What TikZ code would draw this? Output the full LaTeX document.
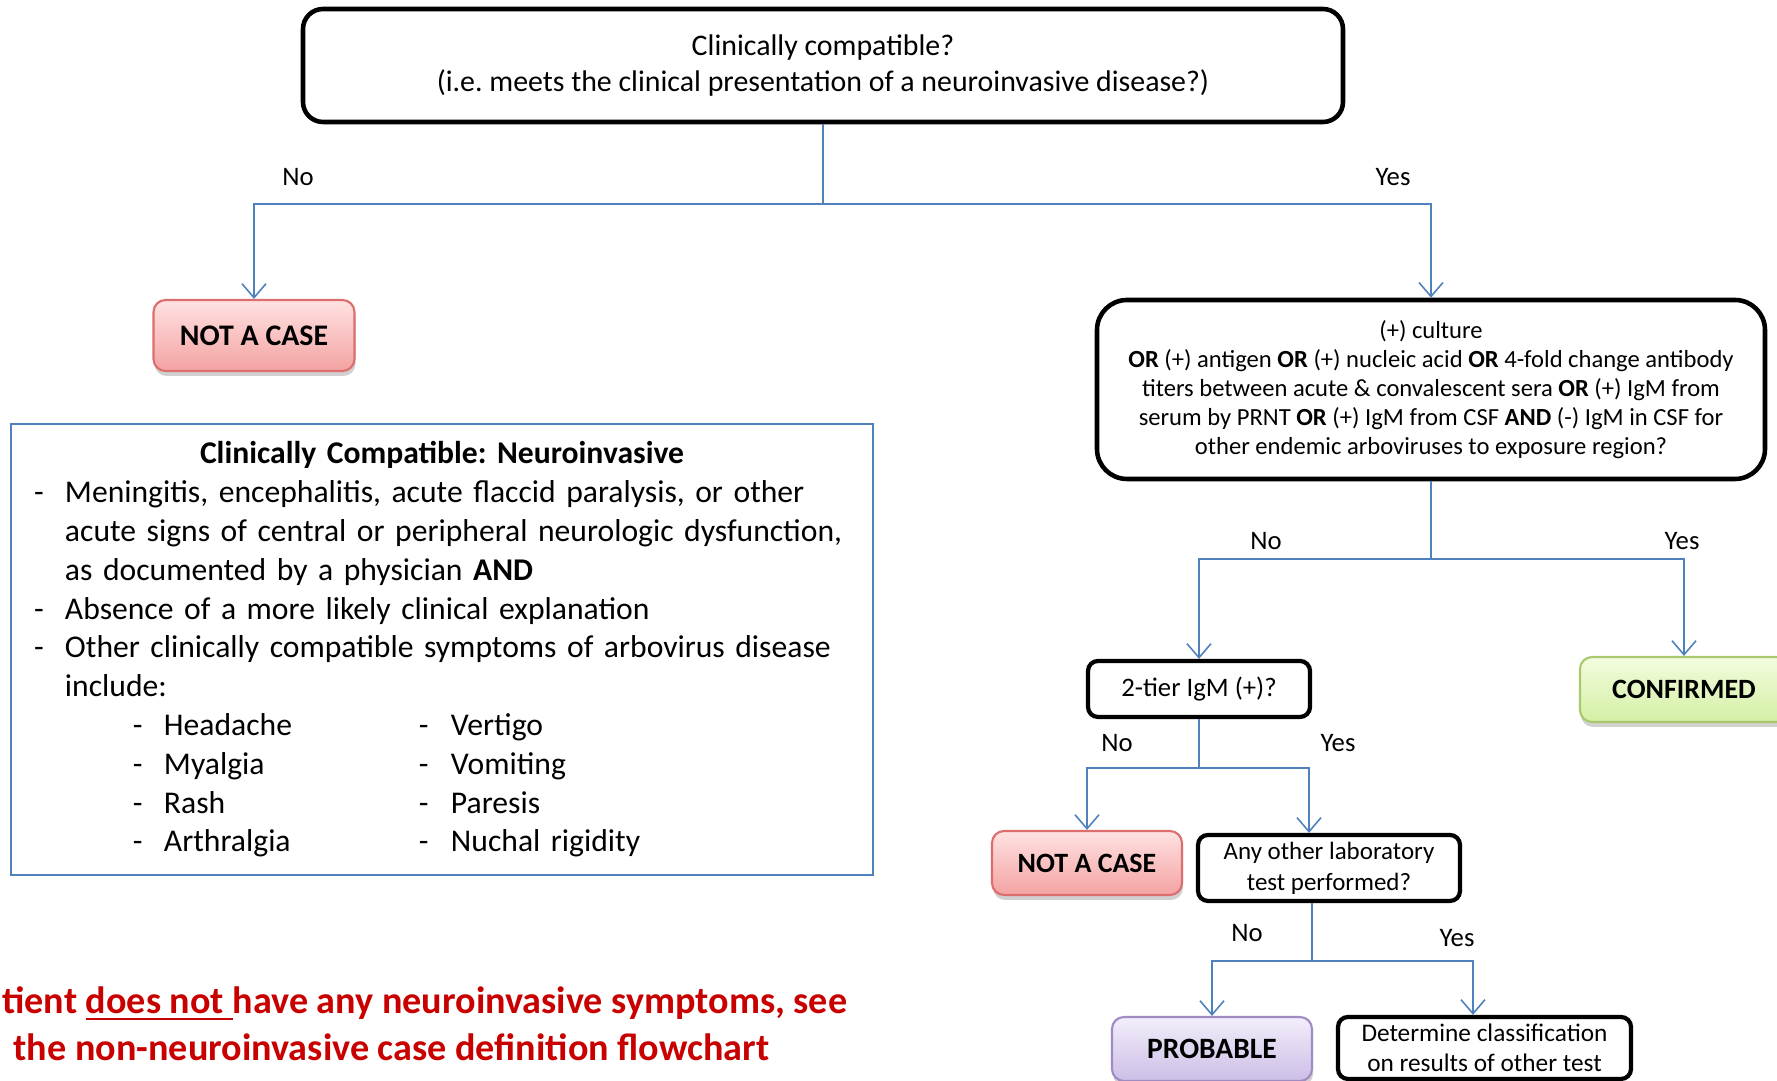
\documentclass[tikz,border=0pt]{standalone}
\usepackage{fontspec}
\setmainfont{Carlito}
\usetikzlibrary{arrows.meta,shadows}

\definecolor{linkblue}{RGB}{79,129,189}
\definecolor{caseedge}{RGB}{220,110,110}
\definecolor{casetop}{RGB}{255,226,226}
\definecolor{casebot}{RGB}{244,162,162}
\definecolor{confedge}{RGB}{170,200,110}
\definecolor{conftop}{RGB}{243,252,222}
\definecolor{confbot}{RGB}{212,240,165}
\definecolor{probedge}{RGB}{160,140,195}
\definecolor{probtop}{RGB}{243,238,251}
\definecolor{probbot}{RGB}{204,190,230}
\definecolor{notered}{RGB}{200,0,0}

\newcommand{\critdash}{\makebox[0.31cm][l]{-}}
\newcommand{\critpair}[2]{\hspace*{0.99cm}\critdash\makebox[2.55cm][l]{#1}\makebox[0.32cm][l]{-}#2}

\tikzset{
  link/.style={draw=linkblue, line width=0.45pt},
  arr/.style={link, -{Straight Barb[length=1.4mm,width=2.4mm]}},
  question/.style={draw, line width=1.3pt, align=center, inner sep=0pt},
  result/.style={rounded corners=0.12cm, line width=0.6pt, inner sep=0pt,
    drop shadow={shadow xshift=0.01cm, shadow yshift=-0.05cm, fill=black!40, opacity=0.45}},
  notcase/.style={result, draw=caseedge, top color=casetop, bottom color=casebot},
  lbl/.style={font=\fontsize{7.6}{8}\selectfont, inner sep=0pt},
  redtext/.style={text=notered, font=\fontsize{10.85}{12}\selectfont\bfseries, inner sep=0pt}
}

\begin{document}
\frenchspacing
\begin{tikzpicture}
    \useasboundingbox (0,0) rectangle (17.77,-10.81);

    % Questions
    \node[question, rounded corners=0.2cm, minimum width=10.4cm, minimum height=1.13cm,
      font=\fontsize{8.5}{10.24}\selectfont] (q1) at (8.23,-0.655)
      {Clinically compatible?\\(i.e. meets the clinical presentation of a neuroinvasive disease?)};
    \node[question, rounded corners=0.3cm, minimum width=6.68cm, minimum height=1.79cm,
      font=\fontsize{7.0}{8.25}\selectfont] (q2) at (14.31,-3.895)
      {(+) culture\\
       \textbf{OR} (+) antigen \textbf{OR} (+) nucleic acid \textbf{OR} 4-fold change antibody\\
       titers between acute \& convalescent sera \textbf{OR} (+) IgM from\\
       serum by PRNT \textbf{OR} (+) IgM from CSF \textbf{AND} (-) IgM in CSF for\\
       other endemic arboviruses to exposure region?};
    \node[question, rounded corners=0.1cm, line width=1.2pt, minimum width=2.22cm, minimum height=0.56cm,
      font=\fontsize{7.6}{8}\selectfont] (tier) at (11.99,-6.89) {2-tier IgM (+)?};
    \node[question, rounded corners=0.1cm, line width=1.2pt, minimum width=2.62cm, minimum height=0.66cm,
      font=\fontsize{7.1}{8.8}\selectfont] (other) at (13.29,-8.68) {Any other laboratory\\test performed?};
    \node[question, rounded corners=0.1cm, line width=1.2pt, minimum width=2.93cm, minimum height=0.62cm,
      font=\fontsize{7.2}{8.5}\selectfont] (det) at (14.845,-10.48) {Determine classification\\on results of other test};

    % Results
    \node[notcase, minimum width=2.01cm, minimum height=0.71cm,
      font=\fontsize{8.5}{9}\selectfont\bfseries] (nac1) at (2.54,-3.355) {NOT A CASE};
    \node[notcase, minimum width=1.90cm, minimum height=0.64cm,
      font=\fontsize{7.95}{9}\selectfont\bfseries] (nac2) at (10.87,-8.63) {NOT A CASE};
    \node[result, draw=confedge, top color=conftop, bottom color=confbot,
      minimum width=2.08cm, minimum height=0.65cm,
      font=\fontsize{7.95}{9}\selectfont\bfseries] (conf) at (16.84,-6.895) {CONFIRMED};
    \node[result, draw=probedge, top color=probtop, bottom color=probbot,
      minimum width=2.00cm, minimum height=0.64cm,
      font=\fontsize{8.4}{9}\selectfont\bfseries] (prob) at (12.12,-10.49) {PROBABLE};

    % Criteria
    \node[draw=linkblue, line width=0.5pt, minimum width=8.62cm, minimum height=4.51cm,
      text width=8.16cm, inner xsep=0.23cm, align=left,
      font=\fontsize{9.0}{11.04}\selectfont] (crit) at (4.42,-6.495)
      {\makebox[8.16cm]{\textbf{Clinically Compatible: Neuroinvasive}}\\
       \critdash Meningitis, encephalitis, acute flaccid paralysis, or other\\
       \hspace*{0.31cm}acute signs of central or peripheral neurologic dysfunction,\\
       \hspace*{0.31cm}as documented by a physician \textbf{AND}\\
       \critdash Absence of a more likely clinical explanation\\
       \critdash Other clinically compatible symptoms of arbovirus disease\\
       \hspace*{0.31cm}include:\\
       \critpair{Headache}{Vertigo}\\
       \critpair{Myalgia}{Vomiting}\\
       \critpair{Rash}{Paresis}\\
       \critpair{Arthralgia}{Nuchal rigidity}};

    \node[redtext, anchor=east] (notea) at (8.48,-10.04)
      {tient \underline{does not\ }have any neuroinvasive symptoms, see};
    \node[redtext] (noteb) at (3.915,-10.47) {the non-neuroinvasive case definition flowchart};

    % Connectors
    \coordinate (s1) at (8.23,-2.04);
    \draw[link] (q1) -- (s1);
    \draw[arr] (s1) -| (nac1);
    \draw[arr] (s1) -| (q2);
    \node[lbl] (no1) at (2.98,-1.77) {No};
    \node[lbl] (yes1) at (13.93,-1.77) {Yes};

    \coordinate (s2) at (14.31,-5.59);
    \draw[link] (q2) -- (s2);
    \draw[arr] (s2) -| (tier);
    \draw[arr] (s2) -| (conf);
    \node[lbl] (no2) at (12.66,-5.41) {No};
    \node[lbl] (yes2) at (16.82,-5.41) {Yes};

    \coordinate (s3) at (11.99,-7.68);
    \draw[link] (tier) -- (s3);
    \draw[arr] (s3) -| (nac2);
    \draw[arr] (s3) -| ([xshift=-0.2cm]other.north);
    \node[lbl] (no3) at (11.17,-7.43) {No};
    \node[lbl] (yes3) at (13.38,-7.43) {Yes};

    \coordinate (s4) at (13.12,-9.61);
    \draw[link] ([xshift=-0.17cm]other.south) -- (s4);
    \draw[arr] (s4) -| (prob);
    \draw[arr] (s4) -| ([xshift=-0.115cm]det.north);
    \node[lbl] (no4) at (12.47,-9.33) {No};
    \node[lbl] (yes4) at (14.57,-9.38) {Yes};

\end{tikzpicture}
\end{document}
